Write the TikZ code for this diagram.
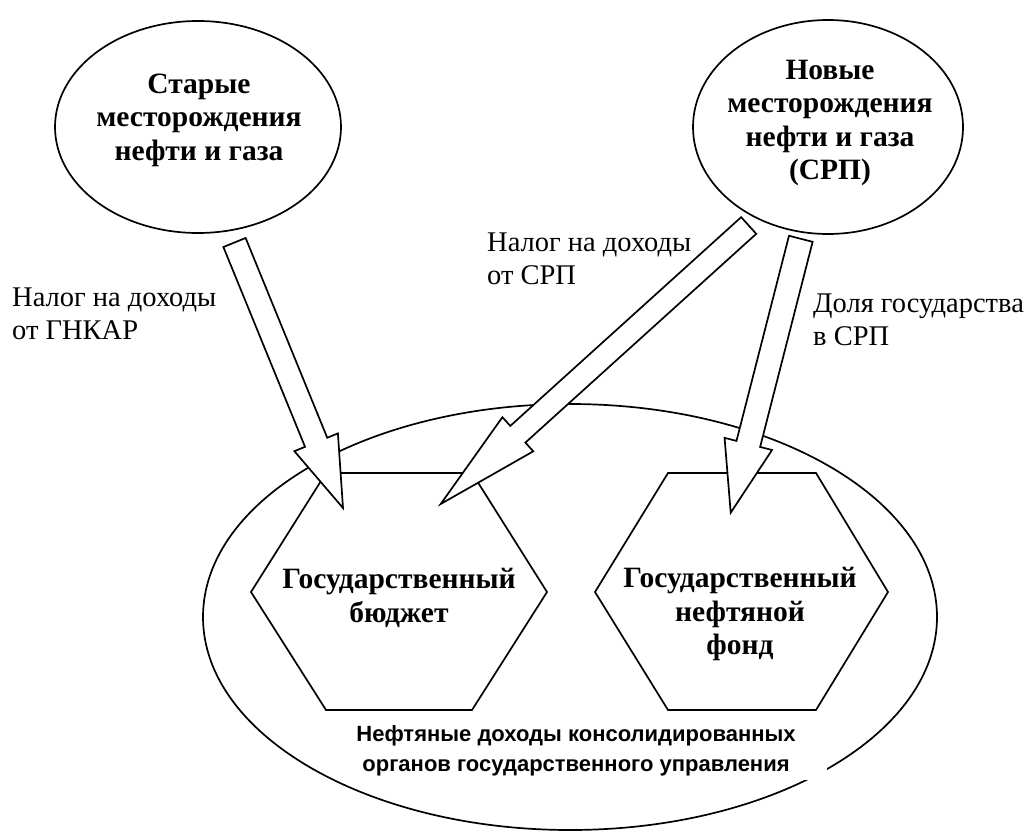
\documentclass[tikz,border=0pt]{standalone}
\usepackage{fontspec}
\setmainfont{Liberation Serif}
\newfontfamily\sansf{Liberation Sans}
\usetikzlibrary{calc,shapes.geometric}
\newcommand\blockarrow[5]{%
  \coordinate (#1n) at ($(#2)!#5!(#1)$);
  \draw[barrow] ($(#1)!#3!90:(#2)$) -- ($(#1n)!#3!90:(#2)$) -- ($(#1n)!#4!90:(#2)$) -- (#2)
    -- ($(#1n)!#4!-90:(#2)$) -- ($(#1n)!#3!-90:(#2)$) -- ($(#1)!#3!-90:(#2)$) -- cycle;}
\begin{document}
\begin{tikzpicture}[x=1pt,y=-1pt,
  outl/.style={draw=black, line width=1.7pt},
  fieldell/.style={ellipse, outl, fill=white, inner sep=0pt},
  boldtxt/.style={font=\fontsize{29.5}{33.5}\selectfont\bfseries, align=center, inner sep=0pt},
  lbl/.style={font=\fontsize{28.5}{33.5}\selectfont, align=left, anchor=west, inner sep=0pt},
  hexa/.style={outl, line join=miter},
  barrow/.style={outl, fill=white, line join=miter},
  constxt/.style={font=\fontsize{22}{29.5}\selectfont\sansf\bfseries, align=center, inner sep=0pt}]
\useasboundingbox (0,0) rectangle (1035,832);
% big ellipse
\node[fieldell, minimum width=734pt, minimum height=426pt] (cons) at (570,617) {};
% hexagons
\coordinate (bud) at (399,592);
\coordinate (fund) at (741.5,592);
\draw[hexa] (251,592) -- (326,473) -- (472,473) -- (547,592) -- (472,710) -- (326,710) -- cycle;
\draw[hexa] (595,592) -- (668,473) -- (816,473) -- (888,592) -- (816,710) -- (668,710) -- cycle;
\node[boldtxt] (budtxt) at (399,598) {Государственный\\бюджет};
\node[boldtxt] (fundtxt) at (740,614) {Государственный\\нефтяной\\фонд};
% consolidated label with white backing
\fill[white] (347,713) rectangle (827,780);
\node[constxt] (constxt) at (576,751) {Нефтяные доходы консолидированных\\органов государственного управления};
% source ellipses
\node[fieldell, minimum width=286pt, minimum height=212pt] (old) at (198,127) {};
\node[boldtxt] (oldtxt) at (199,120) {Старые\\месторождения\\нефти и газа};
\node[fieldell, minimum width=270pt, minimum height=214pt] (new) at (828,127) {};
\node[boldtxt] (newtxt) at (830,123) {Новые\\месторождения\\нефти и газа\\(СРП)};
% labels
\node[lbl] (l1) at (12,314) {Налог на доходы\\от ГНКАР};
\node[lbl] (l2) at (487,259) {Налог на доходы\\от СРП};
\node[lbl] (l3) at (813,320) {Доля государства\\в СРП};
% block arrows
\coordinate (t1) at (234.5,242.5); \coordinate (h1) at (343,508);
\coordinate (t2) at (748.7,225.5); \coordinate (h2) at (440.7,504);
\coordinate (t3) at (800.8,238.8); \coordinate (h3) at (730.7,512.7);
\blockarrow{t1}{h1}{12pt}{23.5pt}{71pt}
\blockarrow{t2}{h2}{11.25pt}{23pt}{104pt}
\blockarrow{t3}{h3}{12.2pt}{24.5pt}{71pt}
\end{tikzpicture}
\end{document}
